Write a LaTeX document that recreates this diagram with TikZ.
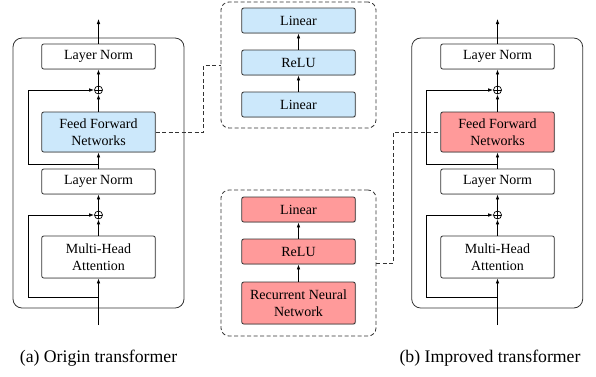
\documentclass[tikz,border=0pt]{standalone}
\usepackage{fontspec}
\setmainfont{Liberation Serif}
\usetikzlibrary{arrows.meta,shadows}
\definecolor{ffblue}{HTML}{CCE8FB}
\definecolor{ffred}{HTML}{FF9A9A}
\definecolor{edge}{HTML}{333333}
\tikzset{
  box/.style={draw=edge, line width=0.8pt, rounded corners=2pt, fill=white,
    minimum width=113.5pt, align=center, inner sep=1pt,
    font=\fontsize{14}{16.7}\selectfont,
    drop shadow={shadow xshift=0.8pt, shadow yshift=-0.8pt, opacity=0.25}},
  bluebox/.style={box, fill=ffblue},
  redbox/.style={box, fill=ffred},
  opl/.style={circle, draw=black, line width=0.7pt, minimum size=8pt, inner sep=0pt,
    path picture={\draw[line width=0.7pt] (path picture bounding box.north) -- (path picture bounding box.south)
      (path picture bounding box.west) -- (path picture bounding box.east);}},
  arr/.style={line width=0.8pt, -{Latex[length=5pt,width=3.6pt]}},
  outer/.style={draw=edge, line width=0.8pt, rounded corners=9pt},
  dbox/.style={draw=edge, line width=0.8pt, rounded corners=8pt, dash pattern=on 4pt off 2.5pt},
  dconn/.style={draw=edge, line width=0.8pt, dash pattern=on 4pt off 2.5pt},
  captext/.style={font=\fontsize{17.7}{20}\selectfont}
}
\begin{document}
\begin{tikzpicture}[x=1pt,y=-1pt]
\useasboundingbox (0,0) rectangle (596,376);

% ---------- left panel ----------
\draw[outer] (13,38) rectangle (184,308);
\node[box, minimum height=25pt] (lnA1) at (98.5,56.5) {Layer Norm};
\node[opl] (opA1) at (98.5,90) {};
\node[bluebox, minimum height=40pt] (ffnA) at (98.5,132) {Feed Forward\\Networks};
\node[box, minimum height=25pt] (lnA2) at (98.5,181.5) {Layer Norm};
\node[opl] (opA2) at (98.5,215) {};
\node[box, minimum height=42pt] (mhaA) at (98.5,257) {Multi-Head\\Attention};
\coordinate (inA) at (98.5,325);
\coordinate (outA) at (98.5,19);
\coordinate (brA1) at (98.5,164);
\coordinate (brA2) at (98.5,297);
\draw[arr] (inA) -- (mhaA.south);
\draw[arr] (mhaA.north) -- (opA2.south);
\draw[arr] (opA2.north) -- (lnA2.south);
\draw[arr] (lnA2.north) -- (ffnA.south);
\draw[arr] (ffnA.north) -- (opA1.south);
\draw[arr] (opA1.north) -- (lnA1.south);
\draw[arr] (lnA1.north) -- (outA);
\draw[arr] (brA1) -- (28,164) |- (opA1.west);
\draw[arr] (brA2) -- (28,297) |- (opA2.west);
\node[captext] (capA) at (98.5,358) {(a) Origin transformer};

% ---------- right panel ----------
\draw[outer] (411.7,38) rectangle (582.7,308);
\node[box, minimum height=25pt] (lnB1) at (497.5,56.5) {Layer Norm};
\node[opl] (opB1) at (497.5,90) {};
\node[redbox, minimum height=40pt] (ffnB) at (497.5,132) {Feed Forward\\Networks};
\node[box, minimum height=25pt] (lnB2) at (497.5,181.5) {Layer Norm};
\node[opl] (opB2) at (497.5,215) {};
\node[box, minimum height=42pt] (mhaB) at (497.5,257) {Multi-Head\\Attention};
\coordinate (inB) at (497.5,325);
\coordinate (outB) at (497.5,19);
\coordinate (brB1) at (497.5,164);
\coordinate (brB2) at (497.5,297);
\draw[arr] (inB) -- (mhaB.south);
\draw[arr] (mhaB.north) -- (opB2.south);
\draw[arr] (opB2.north) -- (lnB2.south);
\draw[arr] (lnB2.north) -- (ffnB.south);
\draw[arr] (ffnB.north) -- (opB1.south);
\draw[arr] (opB1.north) -- (lnB1.south);
\draw[arr] (lnB1.north) -- (outB);
\draw[arr] (brB1) -- (426.7,164) |- (opB1.west);
\draw[arr] (brB2) -- (426.7,297) |- (opB2.west);
\node[captext] (capB) at (490,358) {(b) Improved transformer};

% ---------- middle top (FFN) ----------
\node[dbox, minimum width=155pt, minimum height=126pt, inner sep=0pt] (mt) at (298.5,65) {};
\node[bluebox, minimum height=25pt] (linT1) at (298.5,20.5) {Linear};
\node[bluebox, minimum height=25pt] (reT) at (298.5,62.5) {ReLU};
\node[bluebox, minimum height=25pt] (linT2) at (298.5,104.5) {Linear};
\draw[arr] (linT2.north) -- (reT.south);
\draw[arr] (reT.north) -- (linT1.south);

% ---------- middle bottom (improved FFN) ----------
\node[dbox, minimum width=155pt, minimum height=146pt, inner sep=0pt] (mb) at (298.5,263) {};
\node[redbox, minimum height=25pt] (linB) at (298.5,209.5) {Linear};
\node[redbox, minimum height=25pt] (reB) at (298.5,251.5) {ReLU};
\node[redbox, minimum height=42pt] (rnn) at (298.5,303) {Recurrent Neural\\Network};
\draw[arr] (rnn.north) -- (reB.south);
\draw[arr] (reB.north) -- (linB.south);

% ---------- dashed connectors ----------
\draw[dconn] (ffnA.east) -- ++(48,0) |- (mt.west);
\draw[dconn] (mb.east) -- ++(17,0) |- (ffnB.west);
\end{tikzpicture}
\end{document}
